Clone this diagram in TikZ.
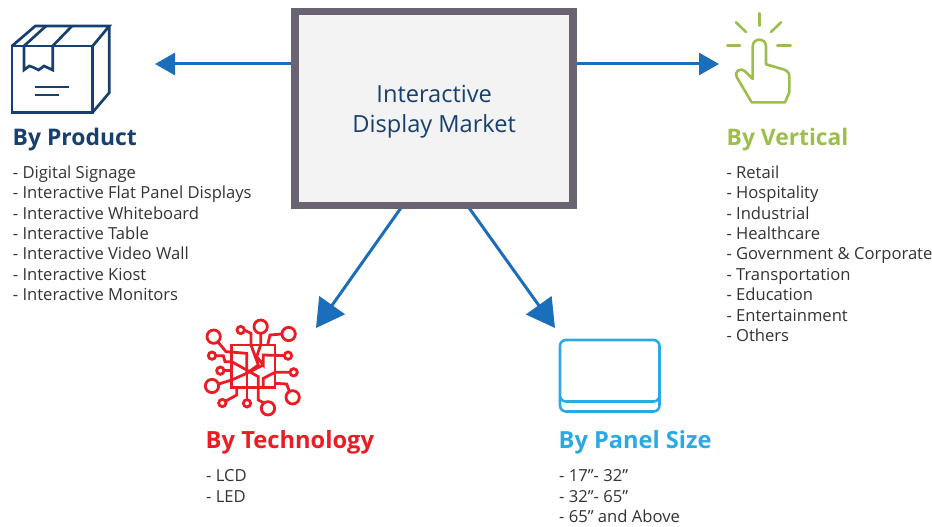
\documentclass[tikz,border=0pt]{standalone}
\usepackage{fontspec}
\setmainfont{Open Sans}
\usetikzlibrary{arrows.meta}
\definecolor{navy}{HTML}{17406F}
\definecolor{leaf}{HTML}{9CBF4B}
\definecolor{crimson}{HTML}{ED1C24}
\definecolor{sky}{HTML}{2BAAE2}
\definecolor{flow}{HTML}{1B6FBA}
\definecolor{framec}{HTML}{6A6472}
\definecolor{screenc}{HTML}{F3F3F4}
\definecolor{body}{HTML}{333333}
\tikzset{
  x=1pt,y=-1pt,
  flowline/.style={draw=flow,line width=3pt},
  flowsmall/.style={flowline,-{Triangle[length=20pt,width=22pt]}},
  flowbig/.style={flowline,-{Triangle[length=28pt,width=31pt]}},
  heading/.style={anchor=base west,inner sep=0pt,font=\fontsize{#1}{28}\selectfont\bfseries},
  itemlist/.style={anchor=north west,inner sep=0pt,align=left,text=body,font=\fontsize{16.6}{20.4}\selectfont},
  boxicon/.style={draw=navy,line width=2.7pt,line join=miter},
  techicon/.style={draw=crimson,line width=2.8pt},
  handicon/.style={draw=leaf,line width=2.6pt,line cap=round,line join=round},
  panelicon/.style={draw=sky,line width=2.6pt},
  screen/.style={draw=framec,line width=7.5pt,fill=screenc,minimum width=278pt,minimum height=193.5pt,inner sep=0pt,align=center,text=navy,font=\fontsize{23.6}{30}\selectfont}
}
\begin{document}
\begin{tikzpicture}
\useasboundingbox (0,0) rectangle (932,527);
\coordinate (leftend) at (155,64);
\coordinate (rightend) at (719,64);
\coordinate (techend) at (316,328);
\coordinate (sizeend) at (555,328);
\coordinate (leftstart) at (300,64);
\coordinate (rightstart) at (570,64);
\coordinate (techstart) at (403,205);
\coordinate (sizestart) at (467,205);
\draw[flowsmall] (leftstart) -- (leftend);
\draw[flowsmall] (rightstart) -- (rightend);
\draw[flowbig] (techstart) -- (techend);
\draw[flowbig] (sizestart) -- (sizeend);
\node[screen] (market) at (434.2,108.5) {\rule{0pt}{24pt}Interactive\\Display Market};
% box icon
\begin{scope}[shift={(0,10)},x=.3333pt,y=-.3333pt,boxicon]
\draw (36,108) rectangle (278,307);
\draw (36,108) -- (106,48) -- (328,48) -- (278,108);
\draw (328,48) -- (328,248) -- (278,307);
\draw (72,108) -- (138,48);
\draw (158,108) -- (216,48);
\draw (72,108) -- (72,180) -- (88,168) -- (100,172) -- (116,180) -- (132,168) -- (158,180) -- (158,108);
\draw (106,231) -- (207,231);
\draw (106,255) -- (176,255);
\end{scope}
% hand icon
\begin{scope}[shift={(700,5)},x=.3333pt,y=-.3333pt,handicon]
\draw (178,25) -- (178,62);
\draw (108,52) -- (138,81);
\draw (243,52) -- (213,81);
\draw (82,122) -- (120,122);
\draw (232,122) -- (272,122);
\draw (158,222) -- (158,125) .. controls (158,97) and (198,97) .. (198,125) -- (198,178) -- (250,193) .. controls (262,197) and (268,203) .. (268,215) -- (268,262) -- (255,292) -- (155,292) -- (110,216) .. controls (102,200) and (120,186) .. (135,199) -- cycle;
\end{scope}
% tech icon
\begin{scope}[shift={(190,310)},x=.3333pt,y=-.3333pt,techicon]
\draw (125,105) rectangle (255,233);
\foreach \cx/\cy/\r in {71/80/20,152/60/11,212/50/20,296/72/20,294/137/11,311/187/11,308/262/20,234/295/20,171/280/11,97/279/11,66/228/20,91/182/11,66/137/11}
  \draw (\cx,\cy) circle[radius=\r];
\draw (84,96) -- (108,125) -- (170,130) -- (170,190) -- (125,210) -- (86,222);
\draw (77,137) -- (100,137) -- (105,155) -- (125,155) -- (205,200) -- (205,270) -- (220,278);
\draw (102,182) -- (125,182);
\draw (125,155) -- (125,182);
\draw (163,60) -- (183,70) -- (183,105) -- (205,165) -- (170,190);
\draw (212,70) -- (212,105) -- (200,140) -- (220,165) -- (220,135) -- (283,137);
\draw (276,72) -- (240,75) -- (233,105);
\draw (300,187) -- (255,187) -- (220,205) -- (220,233);
\draw (220,165) -- (170,190);
\draw (140,233) -- (140,255) -- (106,274);
\draw (171,269) -- (171,190);
\draw (255,220) -- (290,222) -- (298,244);
\end{scope}
% panel icon
\begin{scope}[panelicon]
\draw[rounded corners=6pt] (560,340) rectangle (659.5,401.5);
\draw[rounded corners=6pt] (560,396) -- (560,411.5) -- (659.5,411.5) -- (659.5,396);
\end{scope}
\node[heading=22.9,text=navy] (hproduct) at (12.5,145) {By Product};
\node[heading=22.8,text=leaf] (hvertical) at (726.5,145) {By Vertical};
\node[heading=23.7,text=crimson] (htech) at (205.5,448) {By Technology};
\node[heading=23.6,text=sky] (hsize) at (558.5,448) {By Panel Size};
\node[itemlist] (lproduct) at (12.7,165.5) {- Digital Signage\\- Interactive Flat Panel Displays\\- Interactive Whiteboard\\- Interactive Table\\- Interactive Video Wall\\- Interactive Kiost\\- Interactive Monitors};
\node[itemlist] (lvertical) at (726.3,165.5) {- Retail\\- Hospitality\\- Industrial\\- Healthcare\\- Government \& Corporate\\- Transportation\\- Education\\- Entertainment\\- Others};
\node[itemlist] (ltech) at (206,469.5) {- LCD\\- LED};
\node[itemlist] (lsize) at (559,469.5) {- 17”- 32”\\- 32”- 65”\\- 65” and Above};
\end{tikzpicture}
\end{document}
